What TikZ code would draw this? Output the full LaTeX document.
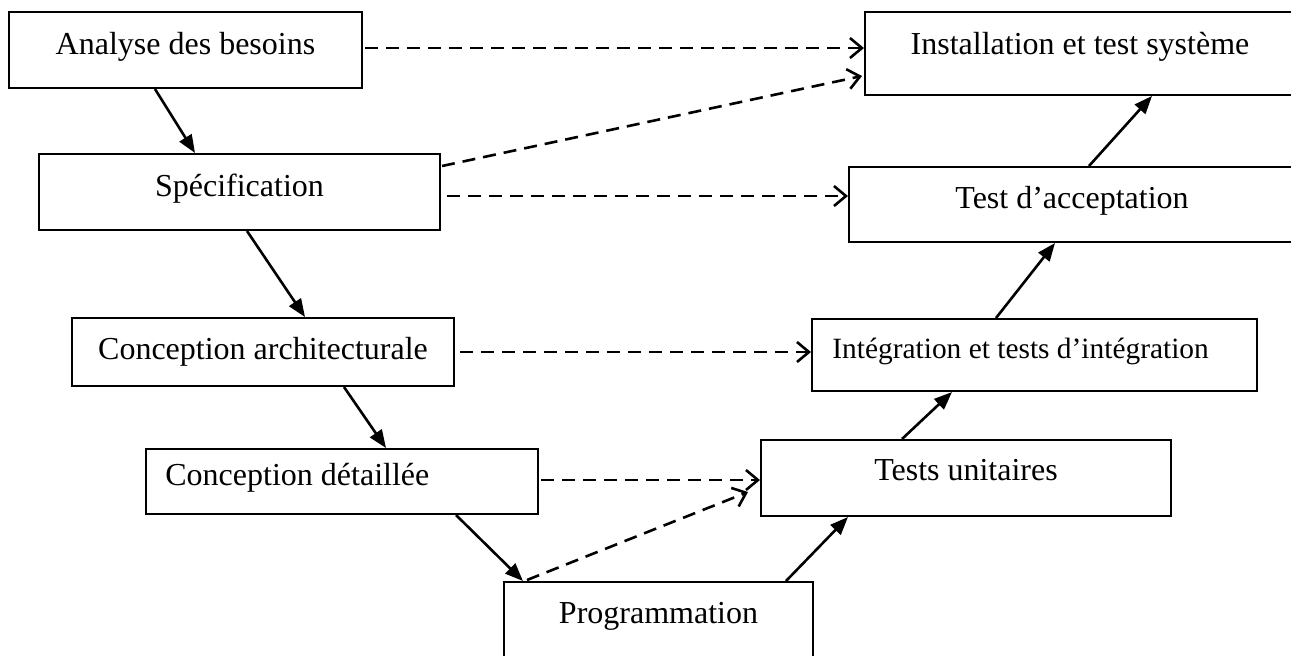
\documentclass[tikz,border=0pt]{standalone}
\usepackage{fontspec}
\setmainfont{Liberation Serif}
\usetikzlibrary{arrows.meta,calc}
\begin{document}
\begin{tikzpicture}[x=0.5pt,y=-0.5pt,
  box/.style={draw, line width=1pt, rectangle, inner sep=0pt, anchor=north west},
  lbl/.style={font=\fontsize{16pt}{19pt}\selectfont, inner sep=0pt, anchor=base},
  small/.style={font=\fontsize{14.7pt}{17pt}\selectfont},
  flow/.style={line width=1.3pt, -{Triangle[length=9pt,width=7pt]}},
  link/.style={line width=1.3pt, dash pattern=on 6.5pt off 4pt,
    -{Straight Barb[length=6pt,width=10pt,line width=1.3pt]}}]
\useasboundingbox (0,0) rectangle (1291,655);
\clip (0,0) rectangle (1291,655);

% left branch: design phases
\node[box, minimum width={353*0.5pt}, minimum height={76*0.5pt}] (ana)  at (8,11) {};
\node[box, minimum width={401*0.5pt}, minimum height={76*0.5pt}] (spec) at (38,153) {};
\node[box, minimum width={382*0.5pt}, minimum height={68*0.5pt}] (arch) at (71,317) {};
\node[box, minimum width={392*0.5pt}, minimum height={65*0.5pt}] (det)  at (145,448) {};
% bottom
\node[box, minimum width={309*0.5pt}, minimum height={100*0.5pt}] (prog) at (503,581) {};
% right branch: test phases
\node[box, minimum width={410*0.5pt}, minimum height={76*0.5pt}] (tu)    at (760,439) {};
\node[box, minimum width={445*0.5pt}, minimum height={72*0.5pt}] (integ) at (811,318) {};
\node[box, minimum width={446*0.5pt}, minimum height={75*0.5pt}] (acc)   at (848,166) {};
\node[box, minimum width={430*0.5pt}, minimum height={83*0.5pt}] (inst)  at (864,11) {};

% labels
\node[lbl] (anaT)  at ($(ana.north)+(0,43)$)  {Analyse des besoins};
\node[lbl] (specT) at ($(spec.north)+(0,43)$) {Spécification};
\node[lbl] (archT) at ($(arch.north)+(0,42)$) {Conception architecturale};
\node[lbl, anchor=base west] (detT) at ($(det.north west)+(20,37)$) {Conception détaillée};
\node[lbl] (progT) at ($(prog.north)+(0,42)$) {Programmation};
\node[lbl] (tuT)   at ($(tu.north)+(0,41)$)   {Tests unitaires};
\node[lbl, small, anchor=base west] (integT) at ($(integ.north west)+(21,40)$) {Intégration et tests d’intégration};
\node[lbl] (accT)  at ($(acc.north)+(0,42)$)  {Test d’acceptation};
\node[lbl] (instT) at ($(inst.north)+(0,43)$) {Installation et test système};

% sequence of phases
\draw[flow] ($(ana.south west)+(147,0)$)  -- ($(spec.north west)+(157,0)$);
\draw[flow] ($(spec.south west)+(209,0)$) -- ($(arch.north west)+(234,0)$);
\draw[flow] ($(arch.south west)+(273,0)$) -- ($(det.north west)+(241,0)$);
\draw[flow] ($(det.south west)+(311,0)$)  -- ($(prog.north west)+(20,0)$);
\draw[flow] ($(prog.north west)+(283,0)$) -- ($(tu.south west)+(88,0)$);
\draw[flow] ($(tu.north west)+(142,0)$)   -- ($(integ.south west)+(141,0)$);
\draw[flow] ($(integ.north west)+(185,0)$) -- ($(acc.south west)+(207,0)$);
\draw[flow] ($(acc.north west)+(241,0)$)  -- ($(inst.south west)+(288,0)$);

% verification links
\draw[link] ($(ana.north east)+(2,37)$) -- ($(inst.north west)+(0,37)$);
\draw[link] ($(spec.north east)+(1,13)$) -- ($(inst.north west)+(-2,65)$);
\draw[link] ($(spec.north east)+(6,43)$) -- ($(acc.north west)+(0,30)$);
\draw[link] ($(arch.north east)+(5,35)$) -- ($(integ.north west)+(0,34)$);
\draw[link] ($(det.north east)+(2,32)$)  -- ($(tu.north west)+(0,41)$);
\draw[link] ($(prog.north west)+(24,-1)$) -- ($(tu.north west)+(-12,53)$);
\end{tikzpicture}
\end{document}
